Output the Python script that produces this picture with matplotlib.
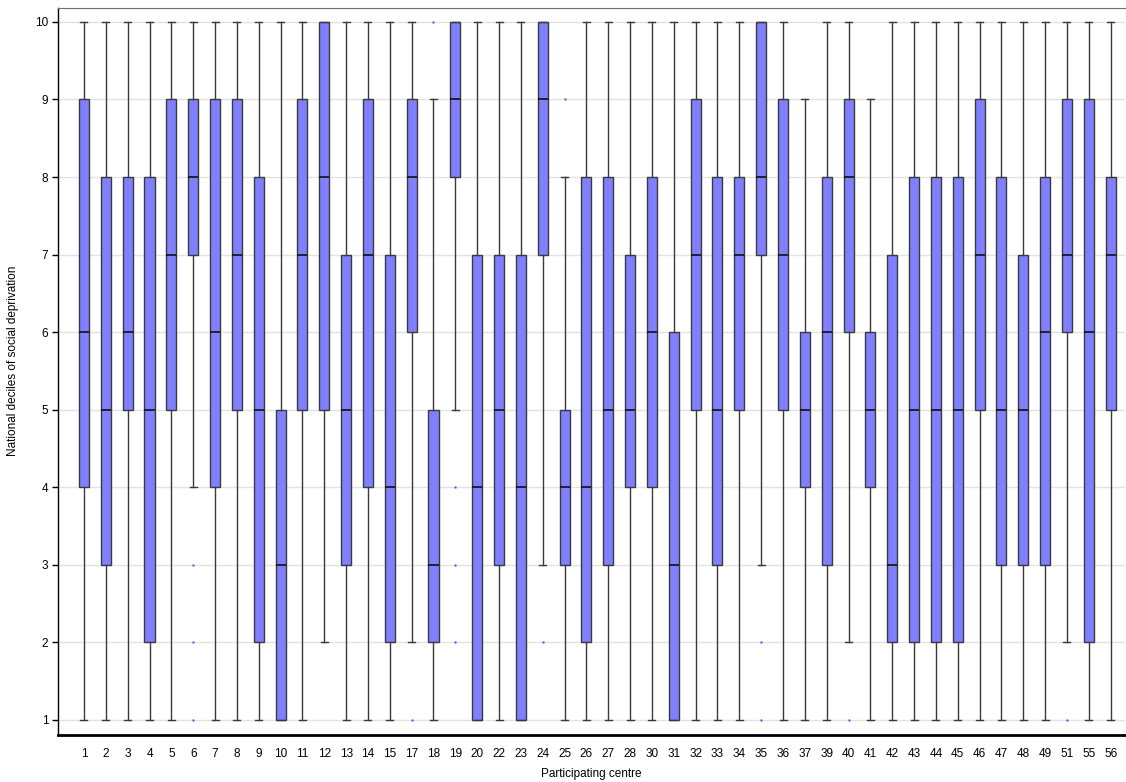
import matplotlib.pyplot as plt
import numpy as np

plt.rcParams['font.family'] = ['Liberation Sans', 'DejaVu Sans']

# Participating centres (x labels)
centres = [1, 2, 3, 4, 5, 6, 7, 8, 9, 10, 11, 12, 13, 14, 15,
           17, 18, 19, 20, 22, 23, 24, 25, 26, 27, 28,
           30, 31, 32, 33, 34, 35, 36, 37,
           39, 40, 41, 42, 43, 44, 45, 46, 47, 48, 49, 51, 55, 56]

# box statistics
whislo = [1, 1, 1, 1, 1, 4, 1, 1, 1, 1, 1, 2, 1, 1, 1,
          2, 1, 5, 1, 1, 1, 3, 1, 1, 1, 1,
          1, 1, 1, 1, 1, 3, 1, 1,
          1, 2, 1, 1, 1, 1, 1, 1, 1, 1, 1, 2, 1, 1]
q1 = [4, 3, 5, 2, 5, 7, 4, 5, 2, 1, 5, 5, 3, 4, 2,
      6, 2, 8, 1, 3, 1, 7, 3, 2, 3, 4,
      4, 1, 5, 3, 5, 7, 5, 4,
      3, 6, 4, 2, 2, 2, 2, 5, 3, 3, 3, 6, 2, 5]
med = [6, 5, 6, 5, 7, 8, 6, 7, 5, 3, 7, 8, 5, 7, 4,
       8, 3, 9, 4, 5, 4, 9, 4, 4, 5, 5,
       6, 3, 7, 5, 7, 8, 7, 5,
       6, 8, 5, 3, 5, 5, 5, 7, 5, 5, 6, 7, 6, 7]
q3 = [9, 8, 8, 8, 9, 9, 9, 9, 8, 5, 9, 10, 7, 9, 7,
      9, 5, 10, 7, 7, 7, 10, 5, 8, 8, 7,
      8, 6, 9, 8, 8, 10, 9, 6,
      8, 9, 6, 7, 8, 8, 8, 9, 8, 7, 8, 9, 9, 8]
whishi = [10, 10, 10, 10, 10, 10, 10, 10, 10, 10, 10, 10, 10, 10, 10,
          10, 9, 10, 10, 10, 10, 10, 8, 10, 10, 10,
          10, 10, 10, 10, 10, 10, 10, 9,
          10, 10, 9, 10, 10, 10, 10, 10, 10, 10, 10, 10, 10, 10]
outliers = {6: [3, 2, 1], 17: [1], 18: [10], 19: [4, 3, 2], 24: [2], 25: [9],
            35: [2, 1], 40: [1], 51: [1]}

stats = []
for i, c in enumerate(centres):
    stats.append({'label': str(c), 'whislo': whislo[i], 'q1': q1[i], 'med': med[i],
                  'q3': q3[i], 'whishi': whishi[i], 'fliers': outliers.get(c, [])})

fig = plt.figure(figsize=(11.26, 7.82), dpi=100)
ax = fig.add_axes([0.0515, 0.0601, 0.9475, 0.9297])

pos = np.arange(len(centres))
ax.bxp(stats, positions=pos, widths=0.46, patch_artist=True,
       boxprops=dict(facecolor='#8080ff', edgecolor='#3a3a3a', linewidth=1),
       medianprops=dict(color='#111111', linewidth=1.2),
       whiskerprops=dict(color='#3a3a3a', linewidth=1),
       capprops=dict(color='#3a3a3a', linewidth=1),
       capwidths=0.32,
       flierprops=dict(marker='s', markersize=1.6, markerfacecolor='#4a4aff',
                       markeredgecolor='none', linestyle='none'))

ax.set_xlim(-1.19, len(centres) - 1 + 0.65)
ax.set_ylim(0.806, 10.18)
ax.set_yticks(range(1, 11))
ax.yaxis.grid(True, color='#e2e2e2', linewidth=1)
ax.set_axisbelow(True)

ax.tick_params(axis='x', length=0, pad=9, labelsize=8.5)
ax.tick_params(axis='y', length=4, width=1, labelsize=8.5, pad=3)

ax.spines['left'].set_color('black')
ax.spines['left'].set_linewidth(1)
ax.spines['bottom'].set_linewidth(2)
ax.spines['top'].set_color('#707070')
ax.spines['right'].set_visible(False)

ax.set_xlabel('Participating centre', fontsize=8.5, labelpad=6)
ax.set_ylabel('National deciles of social deprivation', fontsize=8.5)
ax.yaxis.set_label_coords(-0.037, 0.515)

plt.savefig('out.png', dpi=100)
